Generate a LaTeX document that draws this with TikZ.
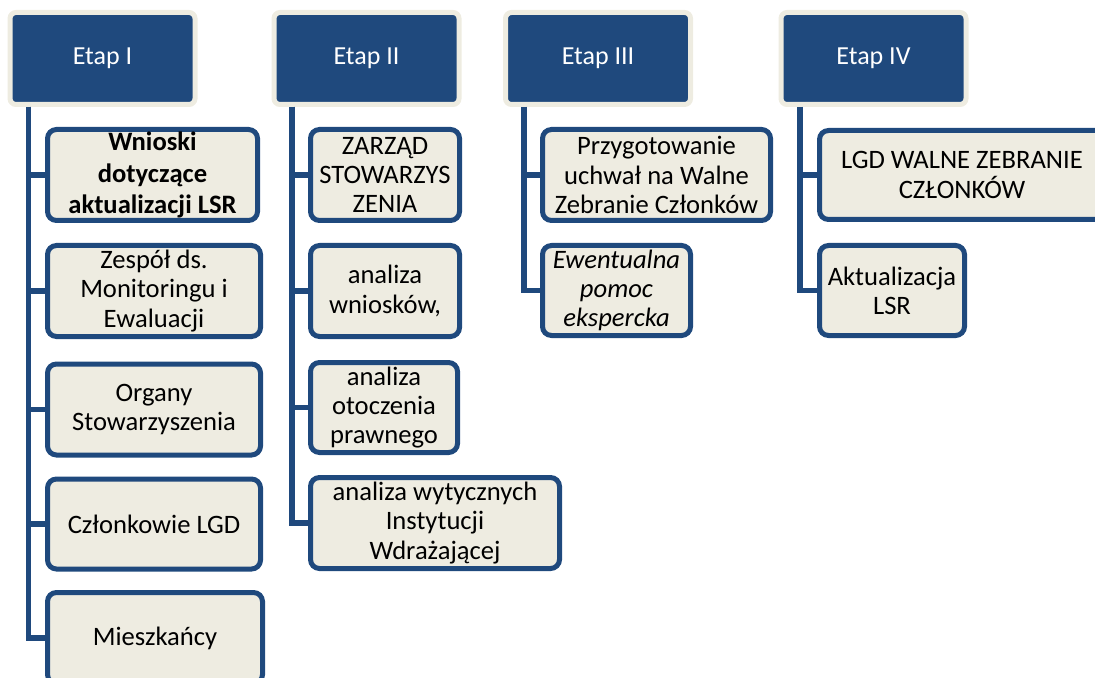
\documentclass[tikz,border=0pt]{standalone}
\usepackage{fontspec}
\setmainfont{Carlito}
\usepackage{xcolor}

\definecolor{granat}{RGB}{31,73,125}
\definecolor{krem}{RGB}{238,236,225}

\tikzset{
  etapbox/.style={draw=krem, line width=2.5pt, fill=granat, rounded corners=3pt,
    minimum width=92.5pt, minimum height=46pt, text=white,
    font=\fontsize{13}{15.5}\selectfont},
  itembox/.style={draw=granat, line width=2.5pt, fill=krem, rounded corners=4.5pt,
    align=center, inner sep=1pt, text=black,
    font=\fontsize{13.3}{14.6}\selectfont},
  linia/.style={draw=granat, line width=2.75pt}
}

\begin{document}
\begin{tikzpicture}[x=0.5pt, y=-0.5pt]
        \useasboundingbox (0,0) rectangle (1095,678);
        \clip (0,0) rectangle (1095,678);
        % Etapy
        \node[etapbox] (h1) at (102.5,58.5) {Etap I};
        \node[etapbox] (h2) at (366.5,58.5) {Etap II};
        \node[etapbox] (h3) at (598,58.5) {Etap III};
        \node[etapbox] (h4) at (873.5,58.5) {Etap IV};
        % Etap I
        \node[itembox, minimum width=105pt, minimum height=45.5pt, font=\fontsize{13.3}{15.6}\selectfont\bfseries] (c11) at (152.5,175) {Wnioski\\dotyczące\\aktualizacji LSR};
        \node[itembox, minimum width=106.5pt, minimum height=45.5pt] (c12) at (154,291) {Zespół ds.\\Monitoringu i\\Ewaluacji};
        \node[itembox, minimum width=106.5pt, minimum height=45.5pt] (c13) at (154,409.5) {Organy\\Stowarzyszenia};
        \node[itembox, minimum width=106.5pt, minimum height=45pt] (c14) at (154,524) {Członkowie LGD};
        \node[itembox, minimum width=107.5pt, minimum height=45.5pt] (c15) at (155,638) {Mieszkańcy};
        % Etap II
        \node[itembox, minimum width=74.5pt, minimum height=45.5pt] (c21) at (385,175) {ZARZĄD\\STOWARZYS\\ZENIA};
        \node[itembox, minimum width=74.5pt, minimum height=45.5pt] (c22) at (385,291) {analiza\\wniosków,};
        \node[itembox, minimum width=73.5pt, minimum height=45pt] (c23) at (384,407.5) {analiza\\otoczenia\\prawnego};
        \node[itembox, minimum width=124.5pt, minimum height=45.5pt] (c24) at (435,523) {analiza wytycznych\\Instytucji\\Wdrażającej};
        % Etap III
        \node[itembox, minimum width=114pt, minimum height=45.5pt] (c31) at (656.5,175) {Przygotowanie\\uchwał na Walne\\Zebranie Członków};
        \node[itembox, minimum width=74pt, minimum height=45pt, font=\fontsize{13.3}{14.6}\selectfont\itshape] (c32) at (616.5,290.5) {Ewentualna\\pomoc\\ekspercka};
        % Etap IV
        \node[itembox, minimum width=142.5pt, minimum height=44.5pt] (c41) at (962,175) {LGD WALNE ZEBRANIE\\CZŁONKÓW};
        \node[itembox, minimum width=72.5pt, minimum height=45pt] (c42) at (892,290.5) {Aktualizacja\\LSR};
        % Linie
        \coordinate (k1) at (28.5,107);
        \coordinate (k2) at (292,107);
        \coordinate (k3) at (524,107);
        \coordinate (k4) at (800,107);
        \foreach \k/\c in {k1/c11, k1/c12, k1/c13, k1/c14, k1/c15,
                           k2/c21, k2/c22, k2/c23, k2/c24,
                           k3/c31, k3/c32, k4/c41, k4/c42} {
            \draw[linia] (\k) |- (\c.west);
        }
    \end{tikzpicture}
\end{document}
